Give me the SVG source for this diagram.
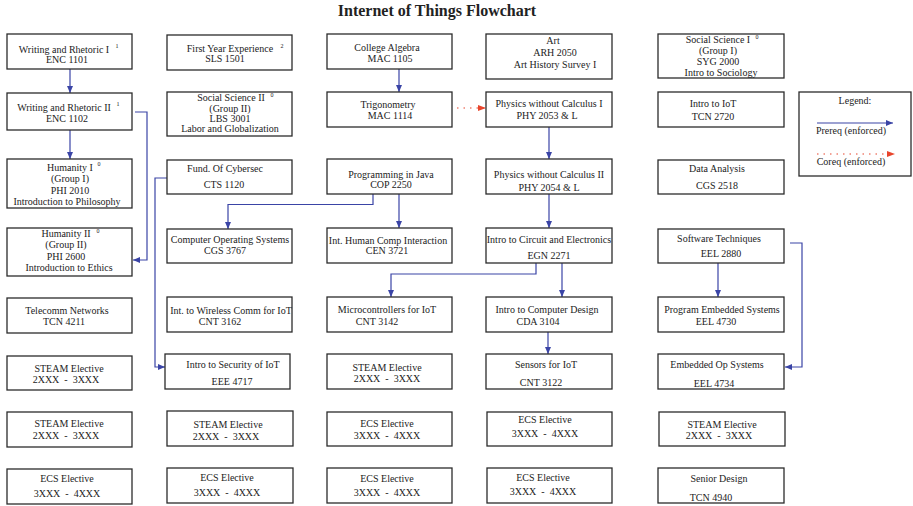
<svg xmlns="http://www.w3.org/2000/svg" width="913" height="506" viewBox="0 0 913 506">
<style>
.b{fill:#fff;stroke:#2b2b2b;stroke-width:1.3}
text{font-family:"Liberation Serif","Times New Roman",serif;font-size:10px;fill:#222;text-anchor:middle;white-space:pre}
.s{font-size:6px}
.t{font-size:16px;font-weight:bold}
.c{fill:none;stroke:#3a44a6;stroke-width:1.2}
.r{fill:none;stroke:#e8452c;stroke-width:1.2;stroke-dasharray:1.5 5}
</style>
<defs>
<marker id="ab" markerWidth="7" markerHeight="6" refX="7" refY="3" orient="auto" markerUnits="userSpaceOnUse"><path d="M0,0 L7,3 L0,6 z" fill="#3a44a6"/></marker>
<marker id="ar" markerWidth="8" markerHeight="6" refX="8" refY="3" orient="auto" markerUnits="userSpaceOnUse"><path d="M0,0 L8,3 L0,6 z" fill="#e8452c"/></marker>
</defs>
<rect width="913" height="506" fill="#fff"/>
<text class="t" x="437" y="16">Internet of Things Flowchart</text>

<g id="connectors">
<path class="c" d="M70,69 V93" marker-end="url(#ab)"/>
<path class="c" d="M70,130 V159" marker-end="url(#ab)"/>
<path class="c" d="M135,112 H147 V260 H133" marker-end="url(#ab)"/>
<path class="c" d="M167,178 H155 V367 H165" marker-end="url(#ab)"/>
<path class="c" d="M373,194 V204.5 H228 V229" marker-end="url(#ab)"/>
<path class="c" d="M399,194 V228" marker-end="url(#ab)"/>
<path class="c" d="M399,69 V92" marker-end="url(#ab)"/>
<path class="r" d="M457,108 H486" marker-end="url(#ar)"/>
<path class="c" d="M549,127 V159" marker-end="url(#ab)"/>
<path class="c" d="M549,194 V228" marker-end="url(#ab)"/>
<path class="c" d="M536,263 V274 H391 V297" marker-end="url(#ab)"/>
<path class="c" d="M562,263 V297" marker-end="url(#ab)"/>
<path class="c" d="M548,332 V354" marker-end="url(#ab)"/>
<path class="c" d="M718,263 V297" marker-end="url(#ab)"/>
<path class="c" d="M790,243 H802 V367 H785" marker-end="url(#ab)"/>
</g>

<g id="wr1"><rect class="b" x="7" y="34" width="125" height="35"/><text x="64" y="53">Writing and Rhetoric I</text><text class="s" x="117" y="48">1</text><text x="67" y="63">ENC 1101</text></g>
<g id="wr2"><rect class="b" x="7" y="93" width="125" height="37"/><text x="64" y="110.5">Writing and Rhetoric II</text><text class="s" x="118" y="106">1</text><text x="67" y="122">ENC 1102</text></g>
<g id="hum1"><rect class="b" x="7" y="159" width="125" height="49"/><text x="70" y="171">Humanity I</text><text class="s" x="99" y="166">0</text><text x="70" y="182">(Group I)</text><text x="70" y="194">PHI 2010</text><text x="67" y="205">Introduction to Philosophy</text></g>
<g id="hum2"><rect class="b" x="7" y="228" width="125" height="48"/><text x="66" y="237">Humanity II</text><text class="s" x="98" y="233">0</text><text x="66" y="248">(Group II)</text><text x="66" y="260">PHI 2600</text><text x="69" y="271">Introduction to Ethics</text></g>
<g id="tcn4211"><rect class="b" x="7" y="298" width="125" height="35"/><text x="67" y="314">Telecomm Networks</text><text x="64" y="325">TCN 4211</text></g>
<g id="steam1"><rect class="b" x="7" y="356" width="125" height="34"/><text x="69" y="372">STEAM Elective</text><text x="66" y="383">2XXX  -  3XXX</text></g>
<g id="steam2"><rect class="b" x="7" y="412" width="125" height="35"/><text x="69" y="427">STEAM Elective</text><text x="66" y="439">2XXX  -  3XXX</text></g>
<g id="ecs1"><rect class="b" x="7" y="469" width="125" height="35"/><text x="67" y="482">ECS Elective</text><text x="67" y="497">3XXX  -  4XXX</text></g>

<g id="fye"><rect class="b" x="167" y="35" width="125" height="35"/><text x="230" y="52">First Year Experience</text><text class="s" x="282" y="48">2</text><text x="225" y="62">SLS 1501</text></g>
<g id="ss2"><rect class="b" x="167" y="92" width="125" height="44"/><text x="231" y="101">Social Science II</text><text class="s" x="272" y="97">0</text><text x="230" y="112">(Group II)</text><text x="230" y="122">LBS 3001</text><text x="230" y="132">Labor and Globalization</text></g>
<g id="cts1120"><rect class="b" x="167" y="160" width="125" height="34"/><text x="225" y="172">Fund. Of Cybersec</text><text x="224" y="188">CTS 1120</text></g>
<g id="cgs3767"><rect class="b" x="167" y="229" width="125" height="34"/><text x="230" y="243">Computer Operating Systems</text><text x="225" y="254">CGS 3767</text></g>
<g id="cnt3162"><rect class="b" x="167" y="297" width="125" height="35"/><text x="231" y="314">Int. to Wireless Comm for IoT</text><text x="220" y="325">CNT 3162</text></g>
<g id="eee4717"><rect class="b" x="165" y="354" width="125" height="35"/><text x="233" y="368">Intro to Security of IoT</text><text x="232" y="385">EEE 4717</text></g>
<g id="steam3"><rect class="b" x="167" y="411" width="126" height="35"/><text x="228" y="428">STEAM Elective</text><text x="226" y="440">2XXX  -  3XXX</text></g>
<g id="ecs2"><rect class="b" x="167" y="468" width="126" height="35"/><text x="227" y="481">ECS Elective</text><text x="227" y="496">3XXX  -  4XXX</text></g>

<g id="mac1105"><rect class="b" x="327" y="34" width="125" height="35"/><text x="387" y="51">College Algebra</text><text x="390" y="62">MAC 1105</text></g>
<g id="mac1114"><rect class="b" x="327" y="92" width="125" height="35"/><text x="388" y="108">Trigonometry</text><text x="390" y="119">MAC 1114</text></g>
<g id="cop2250"><rect class="b" x="327" y="159" width="125" height="35"/><text x="391" y="178">Programming in Java</text><text x="391" y="188">COP 2250</text></g>
<g id="cen3721"><rect class="b" x="327" y="228" width="125" height="35"/><text x="388" y="244">Int. Human Comp Interaction</text><text x="387" y="254">CEN 3721</text></g>
<g id="cnt3142"><rect class="b" x="327" y="297" width="125" height="35"/><text x="387" y="313">Microcontrollers for IoT</text><text x="377" y="325">CNT 3142</text></g>
<g id="steam4"><rect class="b" x="327" y="354" width="125" height="35"/><text x="387" y="371">STEAM Elective</text><text x="387" y="382">2XXX  -  3XXX</text></g>
<g id="ecs3"><rect class="b" x="327" y="412" width="125" height="34"/><text x="387" y="427">ECS Elective</text><text x="387" y="439">3XXX  -  4XXX</text></g>
<g id="ecs4"><rect class="b" x="327" y="468" width="125" height="35"/><text x="387" y="482">ECS Elective</text><text x="387" y="496">3XXX  -  4XXX</text></g>

<g id="arh2050"><rect class="b" x="486" y="34" width="126" height="45"/><text x="553" y="44">Art</text><text x="555" y="56">ARH 2050</text><text x="555" y="68">Art History Survey I</text></g>
<g id="phy2053"><rect class="b" x="486" y="92" width="126" height="35"/><text x="549" y="107">Physics without Calculus I</text><text x="547" y="119">PHY 2053 &amp; L</text></g>
<g id="phy2054"><rect class="b" x="486" y="159" width="126" height="35"/><text x="549" y="178">Physics without Calculus II</text><text x="549" y="191">PHY 2054 &amp; L</text></g>
<g id="egn2271"><rect class="b" x="486" y="228" width="126" height="35"/><text x="549" y="243">Intro to Circuit and Electronics</text><text x="549" y="259">EGN 2271</text></g>
<g id="cda3104"><rect class="b" x="486" y="297" width="126" height="35"/><text x="547" y="313">Intro to Computer Design</text><text x="538" y="325">CDA 3104</text></g>
<g id="cnt3122"><rect class="b" x="486" y="354" width="126" height="35"/><text x="546" y="368">Sensors for IoT</text><text x="541" y="386">CNT 3122</text></g>
<g id="ecs5"><rect class="b" x="487" y="412" width="125" height="34"/><text x="545" y="423">ECS Elective</text><text x="545" y="437">3XXX  -  4XXX</text></g>
<g id="ecs6"><rect class="b" x="487" y="468" width="125" height="35"/><text x="543" y="481">ECS Elective</text><text x="543" y="495">3XXX  -  4XXX</text></g>

<g id="syg2000"><rect class="b" x="658" y="34" width="126" height="44"/><text x="718" y="43">Social Science I</text><text class="s" x="757" y="39">0</text><text x="718" y="54">(Group I)</text><text x="718" y="65">SYG 2000</text><text x="721" y="76">Intro to Sociology</text></g>
<g id="tcn2720"><rect class="b" x="658" y="92" width="126" height="35"/><text x="713" y="107">Intro to IoT</text><text x="713" y="120">TCN 2720</text></g>
<g id="cgs2518"><rect class="b" x="658" y="160" width="126" height="34"/><text x="717" y="172">Data Analysis</text><text x="717" y="189">CGS 2518</text></g>
<g id="eel2880"><rect class="b" x="658" y="229" width="126" height="34"/><text x="719" y="242">Software Techniques</text><text x="721" y="257">EEL 2880</text></g>
<g id="eel4730"><rect class="b" x="658" y="297" width="126" height="35"/><text x="722" y="313">Program Embedded Systems</text><text x="716" y="325">EEL 4730</text></g>
<g id="eel4734"><rect class="b" x="658" y="354" width="126" height="35"/><text x="717" y="368">Embedded Op Systems</text><text x="714" y="387">EEL 4734</text></g>
<g id="steam5"><rect class="b" x="659" y="412" width="126" height="34"/><text x="722" y="428">STEAM Elective</text><text x="719" y="439">2XXX  -  3XXX</text></g>
<g id="tcn4940"><rect class="b" x="658" y="468" width="126" height="35"/><text x="719" y="482">Senior Design</text><text x="711" y="501">TCN 4940</text></g>

<g id="legend"><rect class="b" x="799" y="92" width="112" height="84"/><text x="855" y="104">Legend:</text><path class="c" d="M817,123 H893" marker-end="url(#ab)"/><text x="851" y="134">Prereq (enforced)</text><path class="r" d="M817,154 H895" marker-end="url(#ar)"/><text x="851" y="165">Coreq (enforced)</text></g>
</svg>
